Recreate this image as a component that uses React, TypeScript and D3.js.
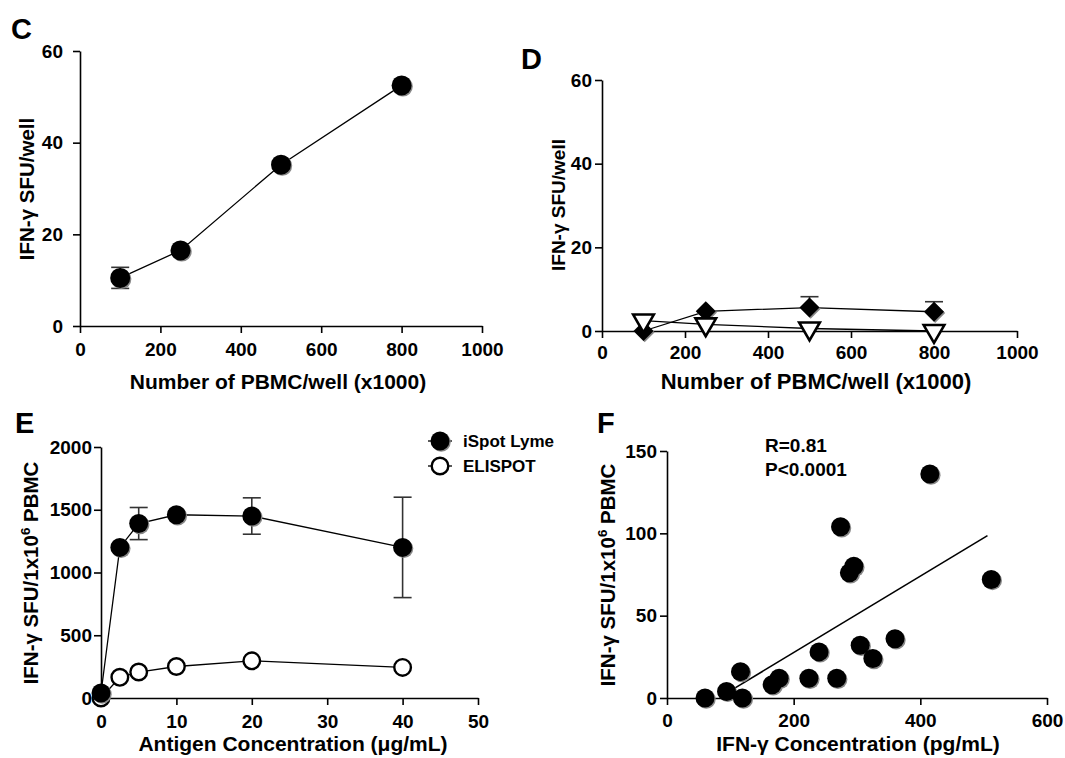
import React, { useEffect, useRef } from "react";
import * as d3 from "d3";

// panels C and D: PBMC titration
const pbmcPerWell = [100, 250, 500, 800];
const cSfu = [10.5, 16.5, 35.2, 52.5];
const cSfuErr = [2.3, 0, 0, 0];
const dDiamond = [0, 4.7, 5.6, 4.6];
const dDiamondErr = [0, 0, 2.6, 2.4];
const dTriangle = [2.5, 1.6, 0.6, 0];

// panel E: antigen titration
const antigenConc = [0, 2.5, 5, 10, 20, 40];
const iSpotLyme = [40, 1200, 1390, 1460, 1450, 1200];
const iSpotLymeErr = [0, 0, 128, 0, 145, 400];
const elispot = [0, 165, 207, 251, 296, 244];

// panel F: correlation
const ifnConc = [60, 94, 116, 119, 166, 177, 224, 240, 268, 274, 288, 295, 305, 325, 360, 415, 512];
const ifnSfu = [0, 4, 16, 0, 8, 12, 12, 28, 12, 104, 76, 80, 32, 24, 36, 136, 72];
const fitSlope = 0.232;
const fitIntercept = -18.8;
const fitRange = [107, 506];

const pbmcTicks = [0, 200, 400, 600, 800, 1000];
const sfuWellTicks = [0, 20, 40, 60];
const antigenTicks = [0, 10, 20, 30, 40, 50];
const sfuMillionTicks = [0, 500, 1000, 1500, 2000];
const concTicks = [0, 200, 400, 600];
const sfuTicks = [0, 50, 100, 150];

const FONT = "'Liberation Sans', Arial, Helvetica, sans-serif";

function axes(svg, x, y, xTicks, yTicks, xPad, yPad) {
  const fmt = d3.format("d");
  const gx = svg
    .append("g")
    .attr("transform", `translate(0,${y(0)})`)
    .call(d3.axisBottom(x).tickValues(xTicks).tickFormat(fmt).tickSize(7).tickSizeOuter(0).tickPadding(xPad));
  const gy = svg
    .append("g")
    .attr("transform", `translate(${x(0)},0)`)
    .call(d3.axisLeft(y).tickValues(yTicks).tickFormat(fmt).tickSize(7).tickSizeOuter(0).tickPadding(yPad));
  [gx, gy].forEach((g) => {
    g.attr("font-family", FONT).attr("font-size", 19).attr("font-weight", "bold");
    g.select(".domain").attr("stroke-width", 1.6);
    g.selectAll(".tick line").attr("stroke-width", 1.6);
    g.selectAll(".tick text").attr("fill", "#000");
  });
}

function label(svg, text, x, y, size, opts = {}) {
  const t = svg
    .append("text")
    .attr("x", x)
    .attr("y", y)
    .attr("font-family", FONT)
    .attr("font-weight", "bold")
    .attr("font-size", size)
    .attr("text-anchor", opts.anchor || "start");
  if (opts.rotate) t.attr("transform", `rotate(-90,${x},${y})`);
  if (opts.sup) {
    t.append("tspan").text(text);
    t.append("tspan").attr("dy", -8).attr("font-size", size * 0.65).text(opts.sup);
    t.append("tspan").attr("dy", 8).text(opts.after);
  } else {
    t.text(text);
  }
  return t;
}

function line(svg, pts) {
  svg
    .append("path")
    .attr("d", d3.line()(pts))
    .attr("fill", "none")
    .attr("stroke", "#000")
    .attr("stroke-width", 1.3);
}

function errorBars(svg, pts, up, down) {
  const g = svg.append("g").attr("stroke", "#333").attr("stroke-width", 1.6);
  pts.forEach((p, i) => {
    if (!up[i]) return;
    const top = up[i];
    const bot = down ? down[i] : p[1];
    g.append("line").attr("x1", p[0]).attr("x2", p[0]).attr("y1", top).attr("y2", bot);
    g.append("line").attr("x1", p[0] - 9).attr("x2", p[0] + 9).attr("y1", top).attr("y2", top);
    if (down) g.append("line").attr("x1", p[0] - 9).attr("x2", p[0] + 9).attr("y1", bot).attr("y2", bot);
  });
}

function filledDots(svg, pts, r) {
  svg.append("g").selectAll("circle").data(pts).join("circle")
    .attr("cx", (d) => d[0] + 1.2).attr("cy", (d) => d[1] + 1.2).attr("r", r).attr("fill", "#888");
  svg.append("g").selectAll("circle").data(pts).join("circle")
    .attr("cx", (d) => d[0]).attr("cy", (d) => d[1]).attr("r", r).attr("fill", "#000");
}

function openDots(svg, pts, r) {
  svg.append("g").selectAll("circle").data(pts).join("circle")
    .attr("cx", (d) => d[0]).attr("cy", (d) => d[1]).attr("r", r - 1.2)
    .attr("fill", "#fff").attr("stroke", "#000").attr("stroke-width", 2.4);
}

const App = () => {
  const svgRef = useRef(null);

  useEffect(() => {
    const svg = d3.select(svgRef.current);
    svg.selectAll("*").remove();

    // ---- C ----
    const xC = d3.scaleLinear().domain([0, 1000]).range([80, 482]);
    const yC = d3.scaleLinear().domain([0, 60]).range([326, 51]);
    axes(svg, xC, yC, pbmcTicks, sfuWellTicks, 10, 10);
    const cPts = pbmcPerWell.map((v, i) => [xC(v), yC(cSfu[i])]);
    line(svg, cPts);
    errorBars(
      svg,
      cPts,
      pbmcPerWell.map((v, i) => (cSfuErr[i] ? yC(cSfu[i] + cSfuErr[i]) : 0)),
      pbmcPerWell.map((v, i) => yC(cSfu[i] - cSfuErr[i]))
    );
    filledDots(svg, cPts, 10);
    label(svg, "C", 11, 39, 29);
    label(svg, "IFN-γ SFU/well", 34, 189, 20.5, { anchor: "middle", rotate: true });
    label(svg, "Number of PBMC/well (x1000)", 278, 389, 21, { anchor: "middle" });

    // ---- D ----
    const xD = d3.scaleLinear().domain([0, 1000]).range([602, 1017]);
    const yD = d3.scaleLinear().domain([0, 60]).range([331, 80]);
    axes(svg, xD, yD, pbmcTicks, sfuWellTicks, 8, 3);
    const diaPts = pbmcPerWell.map((v, i) => [xD(v), yD(dDiamond[i])]);
    const triPts = pbmcPerWell.map((v, i) => [xD(v), yD(dTriangle[i])]);
    line(svg, triPts);
    line(svg, diaPts);
    errorBars(svg, diaPts, pbmcPerWell.map((v, i) => (dDiamondErr[i] ? yD(dDiamond[i] + dDiamondErr[i]) : 0)));
    const diamond = d3.symbol(d3.symbolSquare, 200)();
    svg.append("g").selectAll("path").data(diaPts).join("path")
      .attr("d", diamond).attr("fill", "#888")
      .attr("transform", (d) => `translate(${d[0] + 1.2},${d[1] + 1.2}) rotate(45)`);
    svg.append("g").selectAll("path").data(diaPts).join("path")
      .attr("d", diamond).attr("fill", "#000")
      .attr("transform", (d) => `translate(${d[0]},${d[1]}) rotate(45)`);
    const tri = d3.symbol(d3.symbolTriangle, 185)();
    svg.append("g").selectAll("path").data(triPts).join("path")
      .attr("d", tri).attr("fill", "#fff").attr("stroke", "#000").attr("stroke-width", 2.6)
      .attr("stroke-linejoin", "miter")
      .attr("transform", (d) => `translate(${d[0]},${d[1]}) rotate(180)`);
    label(svg, "D", 521, 69, 29);
    label(svg, "IFN-γ SFU/well", 565, 205, 19, { anchor: "middle", rotate: true });
    label(svg, "Number of PBMC/well (x1000)", 816, 389, 22, { anchor: "middle" });

    // ---- E ----
    const xE = d3.scaleLinear().domain([0, 50]).range([101, 478]);
    const yE = d3.scaleLinear().domain([0, 2000]).range([698, 447]);
    axes(svg, xE, yE, antigenTicks, sfuMillionTicks, 10, 2);
    const isPts = antigenConc.map((v, i) => [xE(v), yE(iSpotLyme[i])]);
    const elPts = antigenConc.map((v, i) => [xE(v), yE(elispot[i])]);
    line(svg, elPts);
    line(svg, isPts);
    errorBars(
      svg,
      isPts,
      antigenConc.map((v, i) => (iSpotLymeErr[i] ? yE(iSpotLyme[i] + iSpotLymeErr[i]) : 0)),
      antigenConc.map((v, i) => yE(iSpotLyme[i] - iSpotLymeErr[i]))
    );
    openDots(svg, elPts, 9.5);
    filledDots(svg, isPts, 9.5);
    // legend
    const legend = [
      { name: "iSpot Lyme", filled: true, y: 441 },
      { name: "ELISPOT", filled: false, y: 466 },
    ];
    legend.forEach((l) => {
      svg.append("line").attr("x1", 428).attr("x2", 452).attr("y1", l.y).attr("y2", l.y)
        .attr("stroke", "#000").attr("stroke-width", 1.3);
      if (l.filled) filledDots(svg, [[440, l.y]], 9.5);
      else openDots(svg, [[440, l.y]], 9.5);
      label(svg, l.name, 463, l.y + 6, 17);
    });
    label(svg, "E", 15, 433, 29);
    label(svg, "IFN-γ SFU/1x10", 38, 573, 20.5, { anchor: "middle", rotate: true, sup: "6", after: " PBMC" });
    label(svg, "Antigen Concentration (μg/mL)", 293, 751, 21, { anchor: "middle" });

    // ---- F ----
    const xF = d3.scaleLinear().domain([0, 600]).range([667, 1047]);
    const yF = d3.scaleLinear().domain([0, 150]).range([698, 451]);
    axes(svg, xF, yF, concTicks, sfuTicks, 9, 3);
    svg
      .append("path")
      .attr("d", d3.line()(fitRange.map((c) => [xF(c), yF(fitSlope * c + fitIntercept)])))
      .attr("stroke", "#000")
      .attr("stroke-width", 1.6);
    filledDots(svg, ifnConc.map((c, i) => [xF(c), yF(ifnSfu[i])]), 9.5);
    label(svg, "F", 597, 433, 29);
    label(svg, "R=0.81", 765, 452, 19);
    label(svg, "P<0.0001", 765, 476, 19);
    label(svg, "IFN-γ SFU/1x10", 615, 575, 20.5, { anchor: "middle", rotate: true, sup: "6", after: " PBMC" });
    label(svg, "IFN-γ Concentration (pg/mL)", 858, 751, 21, { anchor: "middle" });
  }, []);

  return (
    <svg
      ref={svgRef}
      width={1065}
      height={758}
      style={{ position: "absolute", left: 0, top: 0, background: "#fff" }}
    ></svg>
  );
};

export default App;
